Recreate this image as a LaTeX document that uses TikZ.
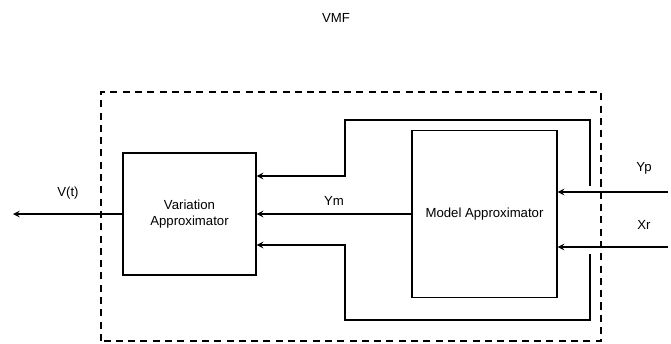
\documentclass[tikz,border=0pt]{standalone}
\usepackage{fontspec}
\setmainfont{Liberation Sans}
\begin{document}
\begin{tikzpicture}[font=\fontsize{7.5}{9}\selectfont, line width=0.7pt]
    \tikzset{>=stealth}
    \tikzset{block/.style={draw, align=center, inner sep=0pt}}
    \useasboundingbox (0,0) rectangle (13.42,6.86);
    \node (vmf) at (6.72,6.50) {VMF};
    % \draw[red] (0,0) rectangle (13.42,6.86);
    \draw[dash pattern=on 4pt off 3pt] (2.02,0.04) rectangle (12.02,5.02);
    \node[block, minimum width=2.66cm, minimum height=2.44cm] (var) at (3.79,2.58) {Variation\\Approximator};
    \node[block, minimum width=2.9cm, minimum height=3.34cm] (mod) at (9.69,2.58) {Model Approximator};
    \coordinate (U1) at (11.80,3.14);
    \coordinate (U2) at (11.80,4.46);
    \coordinate (U3) at (6.90,4.46);
    \coordinate (U4) at (6.90,3.34);
    \coordinate (L1) at (11.80,1.78);
    \coordinate (L2) at (11.80,0.46);
    \coordinate (L3) at (6.90,0.46);
    \coordinate (L4) at (6.90,1.96);
    \coordinate (yp) at (13.36,3.02);
    \coordinate (xr) at (13.36,1.92);
    \coordinate (out) at (0.26,2.58);
    \draw[->] (U1) -- (U2) -- (U3) -- (U4) -- (U4 -| var.east);
    \draw[->] (L1) -- (L2) -- (L3) -- (L4) -- (L4 -| var.east);
    \draw[->] (mod.west) -- (var.east) node[midway, above=1pt] (ym) {Ym};
    \draw[->] (yp) -- (yp -| mod.east);
    \draw[->] (xr) -- (xr -| mod.east);
    \draw[->] (var.west) -- (out);
    \node (vt) at (1.36,3.00) {V(t)};
    \node (yplab) at (12.88,3.50) {Yp};
    \node (xrlab) at (12.88,2.36) {Xr};
\end{tikzpicture}
\end{document}
